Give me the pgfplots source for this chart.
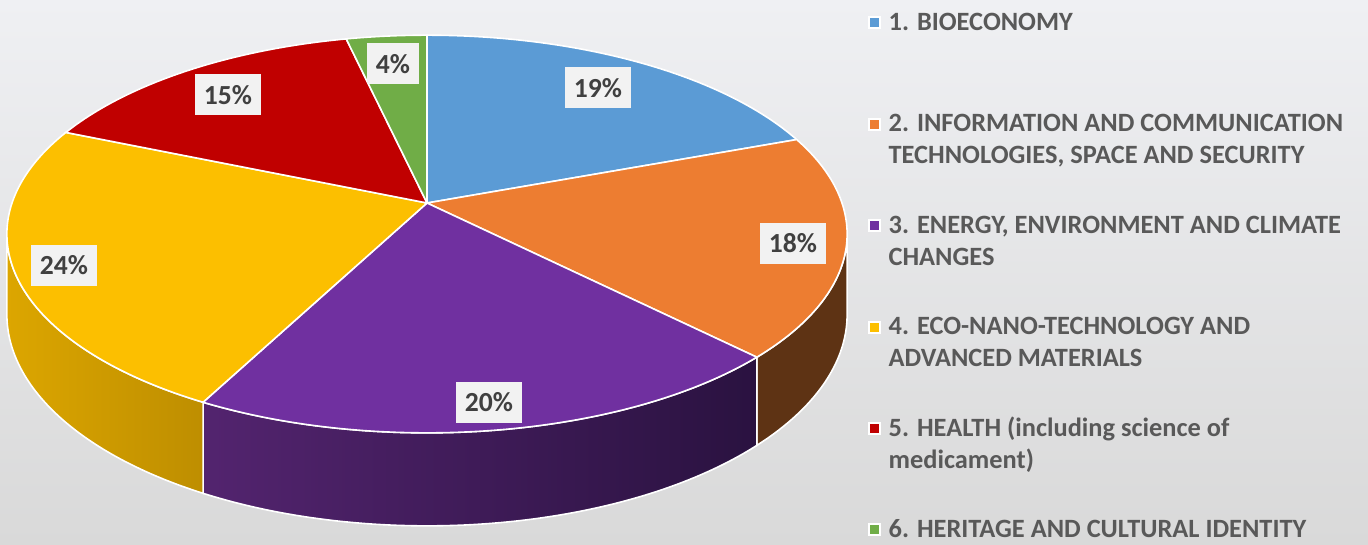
\documentclass[border=0pt]{standalone}
\usepackage{pgfplots}
\pgfplotsset{compat=1.18}
\usepackage{pgfplotstable}
\usepackage{fontspec}
\setmainfont{Carlito}

\definecolor{cBlue}{HTML}{5B9BD5}
\definecolor{cOrange}{HTML}{ED7D31}
\definecolor{cPurple}{HTML}{7030A0}
\definecolor{cYellow}{HTML}{FCBF00}
\definecolor{cRed}{HTML}{C00000}
\definecolor{cGreen}{HTML}{70AD47}
\definecolor{rOrange}{HTML}{5E3314}
\definecolor{rPurpleL}{HTML}{53246F}
\definecolor{rPurpleR}{HTML}{2A1240}
\definecolor{rYellowL}{HTML}{DCA600}
\definecolor{rYellowR}{HTML}{BE8E00}
\definecolor{bgTop}{HTML}{EFF0F3}
\definecolor{bgBot}{HTML}{D9D9D9}
\definecolor{legText}{HTML}{595959}
\definecolor{lblText}{HTML}{404040}
\definecolor{lblBg}{HTML}{F2F2F2}

% shares (in %); labels show the rounded values
\pgfplotstableread{
id pct
1 19.4
2 18.1
3 20.2
4 23.6
5 15.1
6 3.6
}\piedata

\pgfplotstablegetelem{0}{pct}\of\piedata\pgfmathsetmacro\pA{\pgfplotsretval}
\pgfplotstablegetelem{1}{pct}\of\piedata\pgfmathsetmacro\pB{\pgfplotsretval}
\pgfplotstablegetelem{2}{pct}\of\piedata\pgfmathsetmacro\pC{\pgfplotsretval}
\pgfplotstablegetelem{3}{pct}\of\piedata\pgfmathsetmacro\pD{\pgfplotsretval}
\pgfplotstablegetelem{4}{pct}\of\piedata\pgfmathsetmacro\pE{\pgfplotsretval}
\pgfplotstablegetelem{5}{pct}\of\piedata\pgfmathsetmacro\pF{\pgfplotsretval}
\pgfmathsetmacro\eA{3.6*\pA}
\pgfmathsetmacro\eB{\eA+3.6*\pB}
\pgfmathsetmacro\eC{\eB+3.6*\pC}
\pgfmathsetmacro\eD{\eC+3.6*\pD}
\pgfmathsetmacro\eE{\eD+3.6*\pE}
\pgfmathsetmacro\eF{\eE+3.6*\pF}

% top face of a slice: center -> arc -> center
\newcommand\sector[3]{%
 \addplot[#3, domain=0:102, samples=103, variable=\s]
 ({PX(#1+min(max((\s-1)/100,0),1)*(#2-#1), ifthenelse(\s<0.5||\s>101.5,0,1))},
  {PY(#1+min(max((\s-1)/100,0),1)*(#2-#1), ifthenelse(\s<0.5||\s>101.5,0,1),0)});
}
% outer rim of a slice: top arc forward, bottom arc backward, closed
\newcommand\rim[3]{%
 \addplot[#3, forget plot, domain=0:202, samples=203, variable=\s]
 ({PX(#1+ifthenelse(\s<100.5,\s/100,ifthenelse(\s<201.5,(201-\s)/100,0))*(#2-#1),1)},
  {PY(#1+ifthenelse(\s<100.5,\s/100,ifthenelse(\s<201.5,(201-\s)/100,0))*(#2-#1),1,ifthenelse(\s>100.5&&\s<201.5,-1,0))});
}

\newcommand\legfont{\fontsize{13.2}{16}\selectfont\bfseries}
\newcommand\entry[2]{\vtop{\legfont\hbox{\strut #1}\hbox{\strut #2}}}
\newcommand\entryone[1]{\hbox{\legfont\strut #1}}

\begin{document}
\begin{tikzpicture}
\begin{axis}[
  width=684pt, height=272.5pt, scale only axis, hide axis,
  xmin=0, xmax=1368, ymin=0, ymax=545, y dir=reverse,
  declare function={
    PX(\p,\r)=427+415*\r*sin(\p)/(1+0.156*\r*cos(\p));
    PY(\p,\r,\z)=203-(194*\r*cos(\p)+78.5*\z)/(1+0.156*\r*cos(\p));
  },
  legend image code/.code={\draw[#1,draw=white,line width=1pt] (0pt,1pt) rectangle (5.5pt,6.5pt);},
  legend style={at={(0.6345,0.9853)}, anchor=north west, draw=none, fill=none,
    inner sep=0pt, outer sep=0pt, row sep=38pt, column sep=3.8pt,
    nodes={inner sep=0pt, text=legText, font=\legfont},
    cells={anchor=base west}},
]
% background
\addplot[draw=none, forget plot, top color=bgTop, bottom color=bgBot]
  coordinates {(0,0) (1368,0) (1368,545) (0,545) (0,0)};

% rims (visible front part, tangents at 99 and 261 degrees)
\rim{99}{\eB}{draw=white, line width=0.8pt, fill=rOrange}
\rim{\eB}{\eC}{draw=white, line width=0.8pt, left color=rPurpleL, right color=rPurpleR}
\rim{\eC}{261}{draw=white, line width=0.8pt, left color=rYellowL, right color=rYellowR}

% top faces
\sector{0}{\eA}{draw=white, line width=0.8pt, fill=cBlue}
\addlegendentry{\entryone{1. BIOECONOMY}}
\sector{\eA}{\eB}{draw=white, line width=0.8pt, fill=cOrange}
\addlegendentry{\entry{2. INFORMATION AND COMMUNICATION}{TECHNOLOGIES, SPACE AND SECURITY}}
\sector{\eB}{\eC}{draw=white, line width=0.8pt, fill=cPurple}
\addlegendentry{\entry{3. ENERGY, ENVIRONMENT AND CLIMATE}{CHANGES}}
\sector{\eC}{\eD}{draw=white, line width=0.8pt, fill=cYellow}
\addlegendentry{\entry{4. ECO-NANO-TECHNOLOGY AND}{ADVANCED MATERIALS}}
\sector{\eD}{\eE}{draw=white, line width=0.8pt, fill=cRed}
\addlegendentry{\entry{5. HEALTH (including science of}{medicament)}}
\sector{\eE}{\eF}{draw=white, line width=0.8pt, fill=cGreen}
\addlegendentry{\raisebox{0pt}[11.2pt][0pt]{\legfont 6. HERITAGE AND CULTURAL IDENTITY}}

% data labels
\tikzset{lbl/.style={fill=lblBg, text=lblText, font=\fontsize{13.8}{15}\selectfont\bfseries,
  inner xsep=4.5pt, inner ysep=0pt, minimum height=20.5pt}}
\node[lbl] at (axis cs:598,88) {19\%};
\node[lbl] at (axis cs:793,243) {18\%};
\node[lbl] at (axis cs:489,402) {20\%};
\node[lbl] at (axis cs:64,265) {24\%};
\node[lbl] at (axis cs:228,95) {15\%};
\node[lbl] at (axis cs:393,64) {4\%};
\end{axis}
\end{tikzpicture}
\end{document}
